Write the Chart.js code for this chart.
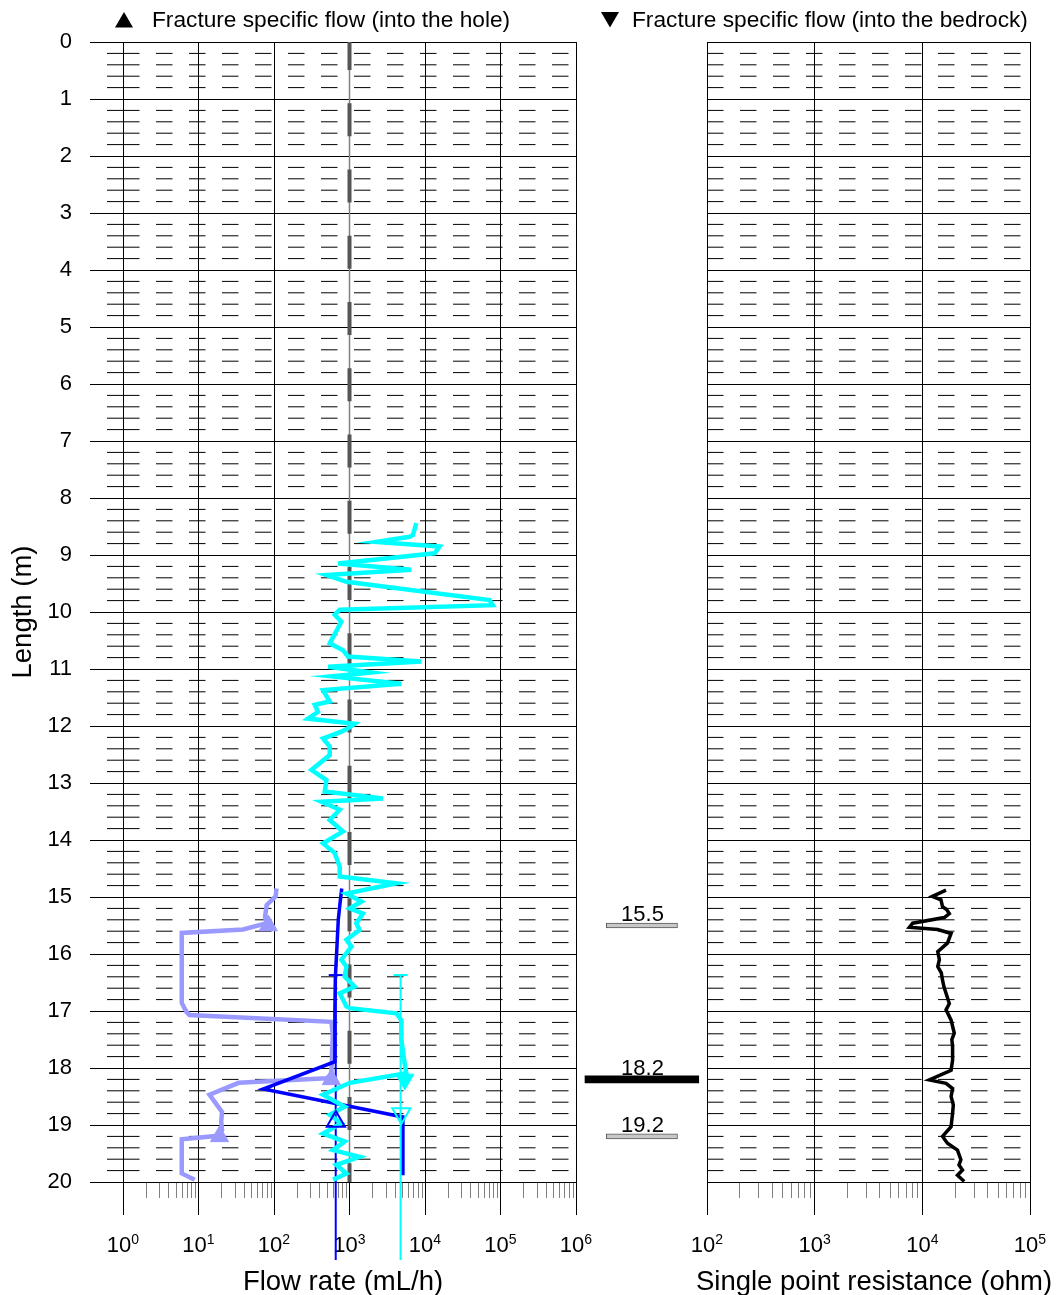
<!DOCTYPE html>
<html>
<head>
<meta charset="utf-8">
<script src="https://cdn.jsdelivr.net/npm/chart.js@4.4.1/dist/chart.umd.min.js"></script>
<style>
  body { margin: 0; background: #fff; }
  #wrap { position: relative; width: 1059px; height: 1295px; }
  canvas { position: absolute; top: 0; }
</style>
</head>
<body>
<div id="wrap">
  <canvas id="flowChart" width="605" height="1295" style="left:0"></canvas>
  <canvas id="markChart" width="135" height="1295" style="left:575px"></canvas>
  <canvas id="sprChart" width="469" height="1295" style="left:590px"></canvas>
</div>
<script>
"use strict";

// axis tick labels (powers of ten)
var flowDecades = [0, 1, 2, 3, 4, 5, 6];
var sprDecades = [2, 3, 4, 5];

// cyan flow curve, depth (m) / flow (mL/h)
var cyanDepth = [8.44, 8.65, 8.68, 8.77, 8.85, 8.97, 9.15, 9.26, 9.35, 9.47,
  9.79, 9.88, 9.96, 10.05, 10.17, 10.55, 10.67, 10.78, 10.87, 10.96,
  11.06, 11.13, 11.26, 11.37, 11.57, 11.63, 11.75, 11.87, 11.96, 12.04,
  12.10, 12.22, 12.36, 12.51, 12.77, 12.95, 13.15, 13.27, 13.33, 13.47,
  13.65, 13.85, 14.06, 14.23, 14.47, 14.64, 14.76, 14.94, 15.08, 15.20,
  15.29, 15.46, 15.58, 15.75, 15.87, 16.10, 16.22, 16.40, 16.57, 16.69,
  16.92, 16.95, 17.04, 17.16, 17.50, 17.92, 18.09, 18.26, 18.47, 18.68,
  18.82, 18.97, 19.15, 19.29, 19.44, 19.56, 19.70, 19.85, 19.96];
var cyanRate = [7670, 6920, 6250, 2270, 15600, 13400, 705, 6590, 495, 910,
  71500, 79100, 742, 637, 781, 547, 820, 955, 8930, 520,
  1950, 577, 4860, 446, 547, 347, 383, 282, 1170, 955,
  781, 446, 547, 547, 313, 495, 470, 2770, 425, 742,
  547, 820, 446, 637, 742, 742, 4170, 910, 1440, 1010,
  1510, 1230, 1360, 910, 1060, 781, 910, 865, 1170, 742,
  910, 1010, 4170, 4860, 4860, 5370, 5660, 1010, 446, 865,
  547, 781, 446, 865, 605, 1360, 671, 910, 605];

// blue curve
var blueDepth = [14.85, 15.10, 15.40, 15.90, 16.40, 17.00, 17.50, 17.89, 18.37, 18.86, 19.88];
var blueRate = [790, 750, 710, 680, 650, 640, 640, 640, 72, 5100, 5100];

// light blue curve
var lightDepth = [14.85, 14.99, 15.14, 15.35, 15.46, 15.57, 15.63, 16.86, 17.01, 17.07,
  17.19, 17.40, 18.12, 18.18, 18.26, 18.47, 18.77, 18.94, 19.09, 19.19,
  19.25, 19.85, 19.96];
var lightRate = [108, 105, 80, 76, 80, 39, 6.0, 6.0, 6.9, 7.6,
  575, 600, 575, 490, 34, 14, 20.5, 20, 20.5, 18,
  6.0, 6.0, 8.9];

// fracture specific flow markers
var lightTriDepth = [15.5, 18.2, 19.2];
var lightTriRate = [84, 575, 19];
var cyanTriDepth = [18.2];
var cyanTriRate = [5400];
var cyanOpenDepth = [18.8];
var cyanOpenRate = [4860];
var blueOpenDepth = [18.94];
var blueOpenRate = [660];

// range bars
var rangeDepth = [16.37, 21.37];
var blueRangeRate = 657;
var cyanRangeRate = 4750;

// 1000 mL/h reference line
var limitDepth = [0, 20];
var limitRate = 1000;

// single point resistance, depth (m) / ohm
var sprDepth = [14.88, 14.99, 15.05, 15.17, 15.22, 15.29, 15.36, 15.46, 15.53, 15.57,
  15.64, 15.81, 15.96, 16.10, 16.22, 16.33, 16.46, 16.58, 16.69, 16.87,
  16.98, 17.16, 17.39, 17.50, 17.63, 17.86, 18.04, 18.21, 18.27, 18.36,
  18.50, 18.65, 18.79, 19.03, 19.20, 19.32, 19.44, 19.61, 19.70, 19.79,
  19.88, 19.99];
var sprOhm = [16600, 12400, 14900, 15400, 16800, 17800, 16000, 8130, 7590, 13900,
  18500, 17100, 13900, 14400, 13900, 15000, 15400, 15900, 16600, 17800,
  16600, 18500, 19800, 18800, 19100, 19100, 18500, 11600, 16600, 19100,
  18500, 19400, 19100, 18500, 15400, 17100, 21200, 22800, 21900, 23600,
  21200, 24500];

// fracture depths shown between the plots
var fractureDepth = [15.5, 18.2, 19.2];
var fractureMajor = [false, true, false];

var FONT = "'Liberation Sans', Arial, Helvetica, sans-serif";
Chart.defaults.font.family = FONT;
Chart.defaults.color = '#000';

function pts(depths, vals) {
  return depths.map(function (d, i) {
    return { x: Array.isArray(vals) ? vals[i] : vals, y: d };
  });
}

function lineSet(depths, vals, color, width) {
  return { data: pts(depths, vals), showLine: true, borderColor: color, borderWidth: width,
    pointRadius: 0, fill: false, tension: 0 };
}

function markerSet(depths, vals, color, filled, rot) {
  return { data: pts(depths, vals), showLine: false, pointStyle: 'triangle', pointRotation: rot,
    pointRadius: 10.5, pointBorderWidth: filled ? 1 : 2, pointBorderColor: color,
    pointBackgroundColor: filled ? color : 'rgba(0,0,0,0)', clip: false };
}

function rangeSet(val, color) {
  return { data: pts(rangeDepth, val), showLine: true, borderColor: color, borderWidth: 2,
    pointStyle: 'line', pointRadius: 7, pointBorderWidth: 2, pointBorderColor: color, clip: false };
}

// dashed lines every 0.2 m
function subGrid(chart, tickLen) {
  var ctx = chart.ctx, a = chart.chartArea, ys = chart.scales.y;
  ctx.save();
  ctx.strokeStyle = '#000';
  ctx.lineWidth = 1;
  for (var m = 0; m < 20; m++) {
    for (var k = 1; k <= 4; k++) {
      var py = ys.getPixelForValue(m + k / 5);
      if (tickLen) {
        ctx.setLineDash([]);
        ctx.beginPath(); ctx.moveTo(a.left - tickLen, py); ctx.lineTo(a.left, py); ctx.stroke();
      }
      ctx.setLineDash([16.5, 16.5]);
      ctx.beginPath(); ctx.moveTo(a.left, py); ctx.lineTo(a.right, py); ctx.stroke();
    }
  }
  ctx.restore();
}

// minor ticks, 10^n labels and the axis title
function logAxisDecor(chart, decades, title, titleShift) {
  var ctx = chart.ctx, xs = chart.scales.x, a = chart.chartArea, y0 = a.bottom;
  ctx.save();
  ctx.strokeStyle = '#808080';
  ctx.lineWidth = 1;
  for (var i = 0; i < decades.length - 1; i++) {
    for (var k = 2; k < 10; k++) {
      var mx = Math.round(xs.getPixelForValue(k * Math.pow(10, decades[i]))) + 0.5;
      ctx.beginPath(); ctx.moveTo(mx, y0 + 1); ctx.lineTo(mx, y0 + 16); ctx.stroke();
    }
  }
  ctx.fillStyle = '#000';
  ctx.textBaseline = 'alphabetic';
  ctx.textAlign = 'left';
  decades.forEach(function (p) {
    var px = xs.getPixelForValue(Math.pow(10, p));
    ctx.font = '22px ' + FONT;
    var wb = ctx.measureText('10').width;
    ctx.font = '14px ' + FONT;
    var we = ctx.measureText(String(p)).width;
    var x0 = px - (wb + we) / 2;
    ctx.font = '22px ' + FONT;
    ctx.fillText('10', x0, y0 + 70);
    ctx.font = '14px ' + FONT;
    ctx.fillText(String(p), x0 + wb, y0 + 62);
  });
  ctx.font = '27.5px ' + FONT;
  ctx.textAlign = 'center';
  ctx.fillText(title, (a.left + a.right) / 2 + titleShift, y0 + 108);
  ctx.restore();
}

function drawHeader(chart, cx, tx, text, rot) {
  var ctx = chart.ctx;
  ctx.save();
  ctx.fillStyle = '#000';
  ctx.strokeStyle = '#000';
  Chart.helpers.drawPoint(ctx, { pointStyle: 'triangle', rotation: rot, radius: 10.4, borderWidth: 0 },
    cx, rot ? 17.2 : 22.4);
  ctx.font = '22.7px ' + FONT;
  ctx.textAlign = 'left';
  ctx.textBaseline = 'alphabetic';
  ctx.fillText(text, tx, 27);
  ctx.restore();
}

var flowExtras = {
  id: 'flowExtras',
  beforeDatasetsDraw: function (chart) {
    subGrid(chart, 16);
    logAxisDecor(chart, flowDecades, 'Flow rate (mL/h)', -6.5);
  },
  afterDraw: function (chart) {
    drawHeader(chart, 124, 152, 'Fracture specific flow (into the hole)', 0);
  }
};

var sprExtras = {
  id: 'sprExtras',
  beforeDatasetsDraw: function (chart) {
    subGrid(chart, 0);
    logAxisDecor(chart, sprDecades, 'Single point resistance (ohm)', 5.5);
  },
  afterDraw: function (chart) {
    drawHeader(chart, 20, 42, 'Fracture specific flow (into the bedrock)', 180);
  }
};

var fractureLabels = {
  id: 'fractureLabels',
  afterDatasetsDraw: function (chart) {
    var ctx = chart.ctx, a = chart.chartArea, ys = chart.scales.y;
    ctx.save();
    ctx.font = '22px ' + FONT;
    ctx.fillStyle = '#000';
    ctx.textAlign = 'center';
    ctx.textBaseline = 'alphabetic';
    fractureDepth.forEach(function (d) {
      ctx.fillText(d.toFixed(1), (a.left + a.right) / 2, ys.getPixelForValue(d) - 4.5);
    });
    ctx.restore();
  }
};

function decadeTicks(decades) {
  return function (s) {
    s.ticks = decades.map(function (p) { return { value: Math.pow(10, p) }; });
  };
}

var noPlugins = { legend: { display: false }, tooltip: { enabled: false } };

var flowChart = new Chart(document.getElementById('flowChart'), {
  type: 'scatter',
  data: {
    datasets: [
      markerSet(cyanTriDepth, cyanTriRate, '#00ffff', true, 180),
      markerSet(cyanOpenDepth, cyanOpenRate, '#00ffff', false, 180),
      markerSet(blueOpenDepth, blueOpenRate, '#0000ff', false, 0),
      markerSet(lightTriDepth, lightTriRate, '#9999ff', true, 0),
      lineSet(cyanDepth, cyanRate, '#00ffff', 4.5),
      rangeSet(cyanRangeRate, '#00ffff'),
      lineSet(blueDepth, blueRate, '#0000ff', 3.5),
      rangeSet(blueRangeRate, '#0000ff'),
      lineSet(lightDepth, lightRate, '#9999ff', 4.5),
      { data: pts(limitDepth, limitRate), showLine: true, borderColor: '#555555', borderWidth: 4,
        borderDash: [33, 33.25], borderDashOffset: 5, pointRadius: 0, borderCapStyle: 'butt' },
      { data: pts(limitDepth, limitRate), showLine: true, borderColor: '#808080', borderWidth: 1.5, pointRadius: 0 }
    ]
  },
  options: {
    responsive: false,
    animation: false,
    layout: { padding: { top: 42, right: 29, bottom: 0, left: 0 }, autoPadding: false },
    plugins: noPlugins,
    scales: {
      x: {
        type: 'logarithmic', min: 1, max: 1e6, bounds: 'data',
        afterFit: function (s) { s.height = 113; },
        afterBuildTicks: decadeTicks(flowDecades),
        ticks: { display: false },
        grid: { color: '#000', lineWidth: 1, drawTicks: true, tickLength: 33, tickColor: '#000' },
        border: { display: true, color: '#000', width: 1 }
      },
      y: {
        type: 'linear', min: 0, max: 20, reverse: true,
        afterFit: function (s) { s.width = 123; },
        ticks: { stepSize: 1, padding: 18, font: { size: 22 }, color: '#000' },
        grid: { color: '#000', lineWidth: 1, drawTicks: true, tickLength: 33, tickColor: '#000' },
        border: { display: false },
        title: { display: true, text: 'Length (m)', color: '#000',
          font: { size: 27.5, lineHeight: 1 }, padding: { top: 10, bottom: 0 } }
      }
    }
  },
  plugins: [flowExtras]
});

function fracturePoints(major) {
  var out = [];
  fractureDepth.forEach(function (d, i) {
    if (fractureMajor[i] === major) out.push({ y: d, x: major ? [0.04, 0.95] : [0.21, 0.78] });
  });
  return out;
}

var markChart = new Chart(document.getElementById('markChart'), {
  type: 'bar',
  data: {
    datasets: [
      { data: fracturePoints(false), barThickness: 5, backgroundColor: '#c8c8c8',
        borderColor: '#5a5a5a', borderWidth: 1, borderSkipped: false, grouped: false },
      { data: fracturePoints(true), barThickness: 7, backgroundColor: '#000', borderWidth: 0, grouped: false }
    ]
  },
  options: {
    indexAxis: 'y',
    responsive: false,
    animation: false,
    layout: { padding: { left: 5, right: 5, top: 42, bottom: 113 }, autoPadding: false },
    plugins: noPlugins,
    scales: {
      x: { type: 'linear', min: 0, max: 1, display: false, offset: false },
      y: { type: 'linear', min: 0, max: 20, reverse: true, display: false, offset: false, grace: 0 }
    }
  },
  plugins: [fractureLabels]
});

var sprChart = new Chart(document.getElementById('sprChart'), {
  type: 'scatter',
  data: {
    datasets: [lineSet(sprDepth, sprOhm, '#000', 3.5)]
  },
  options: {
    responsive: false,
    animation: false,
    layout: { padding: { top: 42, right: 29, bottom: 0, left: 0 }, autoPadding: false },
    plugins: noPlugins,
    scales: {
      x: {
        type: 'logarithmic', min: 100, max: 1e5, bounds: 'data',
        afterFit: function (s) { s.height = 113; },
        afterBuildTicks: decadeTicks(sprDecades),
        ticks: { display: false },
        grid: { color: '#000', lineWidth: 1, drawTicks: true, tickLength: 33, tickColor: '#000' },
        border: { display: true, color: '#000', width: 1 }
      },
      y: {
        type: 'linear', min: 0, max: 20, reverse: true,
        afterFit: function (s) { s.width = 117; },
        ticks: { stepSize: 1, display: false },
        grid: { color: '#000', lineWidth: 1, drawTicks: false },
        border: { display: false }
      }
    }
  },
  plugins: [sprExtras]
});
</script>
</body>
</html>
